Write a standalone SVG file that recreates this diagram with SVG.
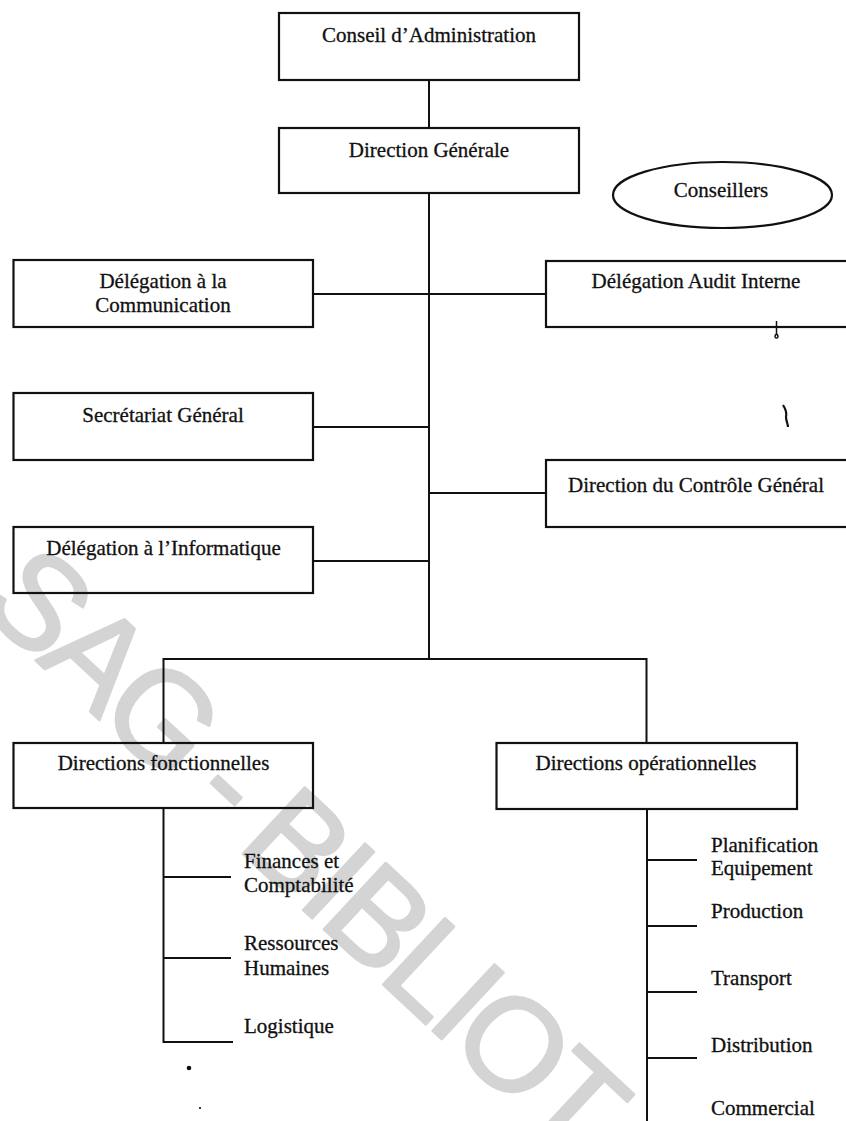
<svg xmlns="http://www.w3.org/2000/svg" width="846" height="1121" viewBox="0 0 846 1121">
<style>
.box{fill:none;stroke:#111;stroke-width:2.2}
.t{font-family:"Liberation Serif","Times New Roman",serif;font-size:21px;fill:#111;stroke:#111;stroke-width:0.3}
.c{text-anchor:middle}
.ln{fill:none;stroke:#111;stroke-width:2}
.wm{font-family:"Liberation Sans",Arial,sans-serif;font-size:132px;letter-spacing:-7px;fill:#d4d4d4;stroke:#d4d4d4;stroke-width:2.5;stroke-linejoin:round}
</style>
<rect x="0" y="0" width="846" height="1121" fill="#fff"/>
<g id="watermark">
<text class="wm" transform="translate(-24,605) rotate(43)" x="0" y="0">SAG - BIBLIOT</text>
</g>
<g id="connectors">
<path class="ln" d="M429,80 V128"/>
<path class="ln" d="M429,193 V659"/>
<path class="ln" d="M313,294 H546"/>
<path class="ln" d="M313,427 H429"/>
<path class="ln" d="M429,493 H546"/>
<path class="ln" d="M313,561 H429"/>
<path class="ln" d="M163.5,743 V659 H646.5 V743"/>
<path class="ln" d="M163.5,808 V1042 H233"/>
<path class="ln" d="M163.5,877 H231"/>
<path class="ln" d="M163.5,958 H231"/>
<path class="ln" d="M647,809 V1121"/>
<path class="ln" d="M647,860 H697"/>
<path class="ln" d="M647,926 H697"/>
<path class="ln" d="M647,992 H697"/>
<path class="ln" d="M647,1058 H697"/>
</g>
<g id="n-conseil">
<rect class="box" x="279" y="13" width="300" height="67"/>
<text class="t c" x="429" y="42">Conseil d’Administration</text>
</g>
<g id="n-dg">
<rect class="box" x="279" y="128" width="300" height="65"/>
<text class="t c" x="429" y="157">Direction Générale</text>
</g>
<g id="n-conseillers">
<ellipse class="box" cx="722.5" cy="195" rx="109.5" ry="33"/>
<text class="t c" x="721" y="197">Conseillers</text>
</g>
<g id="n-communication">
<rect class="box" x="13.5" y="260" width="299.5" height="67"/>
<text class="t c" x="163" y="288">Délégation à la</text>
<text class="t c" x="163" y="312">Communication</text>
</g>
<g id="n-audit">
<rect class="box" x="546" y="261" width="304" height="66"/>
<text class="t c" x="696" y="288">Délégation Audit Interne</text>
</g>
<g id="n-secretariat">
<rect class="box" x="13.5" y="393" width="299.5" height="67"/>
<text class="t c" x="163" y="422">Secrétariat Général</text>
</g>
<g id="n-controle">
<rect class="box" x="546" y="460" width="304" height="67"/>
<text class="t c" x="696" y="492">Direction du Contrôle Général</text>
</g>
<g id="n-informatique">
<rect class="box" x="13.5" y="527" width="299.5" height="66"/>
<text class="t c" x="163.5" y="555">Délégation à l’Informatique</text>
</g>
<g id="n-fonctionnelles">
<rect class="box" x="13.5" y="743" width="299.5" height="65"/>
<text class="t c" x="163.5" y="770">Directions fonctionnelles</text>
</g>
<g id="n-operationnelles">
<rect class="box" x="496.5" y="743" width="300.5" height="66"/>
<text class="t c" x="646" y="770">Directions opérationnelles</text>
</g>
<g id="n-finances">
<text class="t" x="244" y="868">Finances et</text>
<text class="t" x="244" y="892">Comptabilité</text>
</g>
<g id="n-rh">
<text class="t" x="244" y="950">Ressources</text>
<text class="t" x="244" y="975">Humaines</text>
</g>
<g id="n-logistique">
<text class="t" x="244" y="1033">Logistique</text>
</g>
<g id="n-planification">
<text class="t" x="711" y="852">Planification</text>
<text class="t" x="711" y="875">Equipement</text>
</g>
<g id="n-production">
<text class="t" x="711" y="918">Production</text>
</g>
<g id="n-transport">
<text class="t" x="711" y="985">Transport</text>
</g>
<g id="n-distribution">
<text class="t" x="711" y="1052">Distribution</text>
</g>
<g id="n-commercial">
<text class="t" x="711" y="1115">Commercial</text>
</g>
<g id="marks">
<path d="M776.5,321 V334 M776.5,334 c-2,1 -2,4 0,4 c2,0 2,-3 0,-4" fill="none" stroke="#111" stroke-width="1.5"/>
<path d="M783,405 c2,3 4,8 3,12 c0,4 2,7 2,10" fill="none" stroke="#111" stroke-width="2.2"/>
<circle cx="189" cy="1068" r="2.3" fill="#111"/>
<circle cx="200" cy="1108" r="1.1" fill="#111"/>
</g>
</svg>
